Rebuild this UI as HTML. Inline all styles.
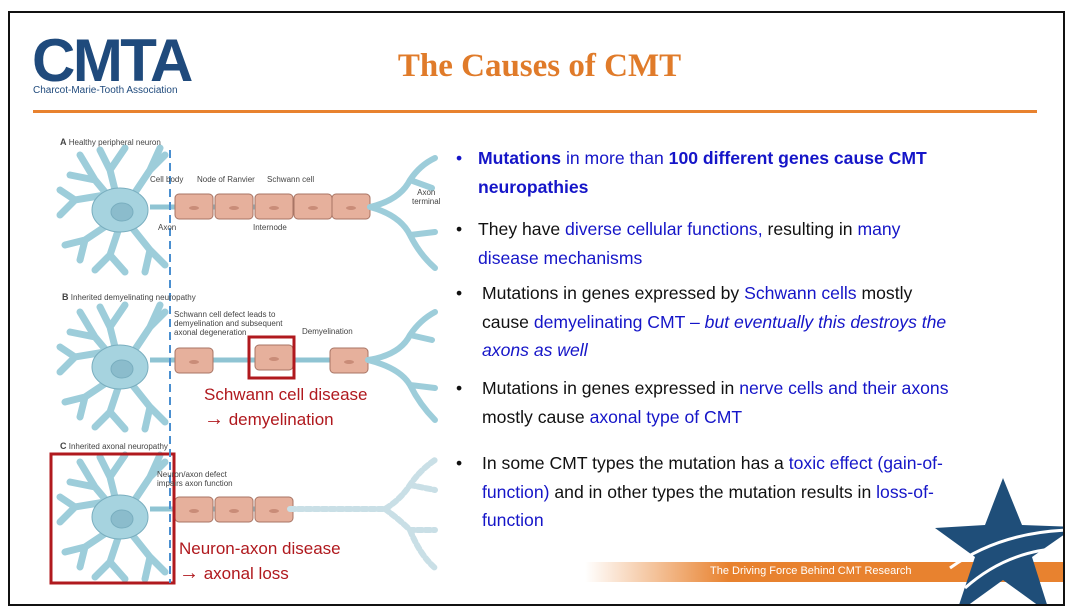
<!DOCTYPE html>
<html><head><meta charset="utf-8"><style>
*{margin:0;padding:0;box-sizing:border-box}
body{width:1079px;height:613px;background:#fff;position:relative;overflow:hidden;font-family:"Liberation Sans",sans-serif}
.frame{position:absolute;left:8px;top:11px;width:1057px;height:595px;border:2px solid #111;overflow:hidden;z-index:5;pointer-events:none}
.t{position:absolute;white-space:nowrap}
.b{color:#1515c8}
.txt{position:absolute;font-size:17.6px;color:#111;line-height:28.5px}
.txt li{list-style:none;position:relative}
.dot{position:absolute;left:-22px}
.sm{position:absolute;font-size:8px;color:#444;white-space:nowrap;line-height:9px}
.red{position:absolute;color:#b0191e;font-size:17px;line-height:24px;white-space:nowrap}
.ar{font-size:20px;font-weight:bold}
</style></head><body>
<div class="frame"></div>
<div class="t" style="left:32px;top:31px;font-size:60px;font-weight:bold;color:#1f4a7c;letter-spacing:-2.5px;line-height:60px">CMTA</div>
<div class="t" style="left:33px;top:85px;font-size:10px;color:#1f4a7c">Charcot-Marie-Tooth Association</div>
<div class="t" style="left:0;width:1079px;text-align:center;top:48px;font-family:'Liberation Serif',serif;font-weight:bold;font-size:33px;color:#e07b2a">The Causes of CMT</div>
<div style="position:absolute;left:33px;top:110px;width:1004px;height:3px;background:#e8822f"></div>

<svg style="position:absolute;left:0;top:0" width="1079" height="613">
<defs>
<clipPath id="fc"><rect x="10" y="13" width="1053" height="591"/></clipPath>
<g id="neu" stroke="#79aebf" stroke-width="1" fill="#a6d3df">
<g fill="none" stroke="#9dcdda" stroke-linecap="round" stroke-width="7">
<path d="M120 0 L95 -30 L80 -55 M95 -30 L70 -35 M105 -15 L75 -10 L60 -20 M75 -10 L60 5"/>
<path d="M120 0 L110 -40 L100 -60 M110 -40 L125 -62 M130 -10 L150 -40 L165 -55 M150 -40 L160 -62"/>
<path d="M115 10 L85 30 L65 35 M85 30 L80 50 M120 15 L110 45 L95 60 M110 45 L125 62 M130 15 L150 40 L165 55 M150 40 L145 62"/>
</g>
<ellipse cx="120" cy="0" rx="28" ry="22"/>
<ellipse cx="122" cy="2" rx="11" ry="9" fill="#8bbccc"/>
</g>
<g id="seg"><rect x="0" y="0" width="38" height="25" rx="4" fill="#e6b09c" stroke="#a87565"/><ellipse cx="19" cy="14" rx="5" ry="2" fill="#c98c78"/></g>
<linearGradient id="og" x1="0" x2="1"><stop offset="0" stop-color="#e8822f" stop-opacity="0"/><stop offset="0.3" stop-color="#e8822f"/><stop offset="1" stop-color="#e8822f"/></linearGradient>
</defs>
<use href="#neu" x="0" y="210"/>
<line x1="150" y1="207" x2="380" y2="207" stroke="#8fc4d3" stroke-width="5"/>
<use href="#seg" x="175" y="194"/><use href="#seg" x="215" y="194"/><use href="#seg" x="255" y="194"/><use href="#seg" x="294" y="194"/><use href="#seg" x="332" y="194"/>
<g fill="none" stroke="#9dcdda" stroke-width="6" stroke-linecap="round"><path d="M370 207 Q400 200 410 180 Q420 165 435 158 M410 180 L432 188 M370 207 Q400 215 410 235 L435 232 M410 235 Q420 255 435 268"/></g>
<use href="#neu" x="0" y="367"/>
<line x1="150" y1="360" x2="380" y2="360" stroke="#8fc4d3" stroke-width="5"/>
<use href="#seg" x="175" y="348"/><use href="#seg" x="255" y="345"/><use href="#seg" x="330" y="348"/>
<rect x="249" y="337" width="45" height="41" fill="none" stroke="#b0191e" stroke-width="3"/>
<g fill="none" stroke="#9dcdda" stroke-width="6" stroke-linecap="round"><path d="M368 360 Q400 355 410 335 Q420 320 435 312 M410 335 L432 340 M368 360 Q400 368 410 385 L435 388 M410 385 Q420 405 435 420"/></g>
<use href="#neu" x="0" y="517"/>
<line x1="150" y1="509" x2="290" y2="509" stroke="#8fc4d3" stroke-width="5"/>
<use href="#seg" x="175" y="497"/><use href="#seg" x="215" y="497"/><use href="#seg" x="255" y="497"/>
<g fill="none" stroke="#c9dfe6" stroke-width="6" stroke-dasharray="5 3" stroke-linecap="round"><path d="M290 509 L385 509 Q400 500 410 485 Q420 470 435 460 M410 485 L435 490 M385 509 Q400 520 410 530 L435 530 M410 530 Q420 555 435 568"/></g>
<rect x="51" y="454" width="123" height="129" fill="none" stroke="#b0191e" stroke-width="3"/>
<line x1="170" y1="150" x2="170" y2="583" stroke="#4a8fd0" stroke-width="2" stroke-dasharray="8 5"/>
<g clip-path="url(#fc)">
<rect x="585" y="562" width="480" height="20" fill="url(#og)"/>
<polygon points="1003,478 1022,525 1075,527 1032,557 1050,614 1003,580 956,614 975,557 935,528 985,525" fill="#1f4e79"/>
<path d="M950 568 Q1000 532 1070 530" stroke="#fff" stroke-width="3" fill="none"/>
<path d="M965 588 Q1010 548 1070 548" stroke="#fff" stroke-width="3" fill="none"/>
</g>
</svg>
<div class="t" style="left:710px;top:565px;font-size:11px;color:#fff">The Driving Force Behind CMT Research</div>

<div class="sm" style="left:60px;top:138px"><b style="font-size:9px">A</b> Healthy peripheral neuron</div>
<div class="sm" style="left:150px;top:175px">Cell body</div>
<div class="sm" style="left:197px;top:175px">Node of Ranvier</div>
<div class="sm" style="left:267px;top:175px">Schwann cell</div>
<div class="sm" style="left:158px;top:223px">Axon</div>
<div class="sm" style="left:253px;top:223px">Internode</div>
<div class="sm" style="left:412px;top:188px;text-align:center">Axon<br>terminal</div>
<div class="sm" style="left:62px;top:293px"><b style="font-size:9px">B</b> Inherited demyelinating neuropathy</div>
<div class="sm" style="left:174px;top:310px">Schwann cell defect leads to<br>demyelination and subsequent<br>axonal degeneration</div>
<div class="sm" style="left:302px;top:327px">Demyelination</div>
<div class="sm" style="left:60px;top:442px"><b style="font-size:9px">C</b> Inherited axonal neuropathy</div>
<div class="sm" style="left:157px;top:470px">Neuron/axon defect<br>impairs axon function</div>
<div class="red" style="left:204px;top:383px">Schwann cell disease<br><span class="ar">→</span> demyelination</div>
<div class="red" style="left:179px;top:537px">Neuron-axon disease<br><span class="ar">→</span> axonal loss</div>

<ul class="txt" style="left:478px;top:144px">
<li><span class="dot b">•</span><b class="b">Mutations</b> <span class="b">in more than</span> <b class="b">100 different genes cause CMT<br>neuropathies</b></li>
</ul>
<ul class="txt" style="left:478px;top:215px">
<li><span class="dot">•</span>They have <span class="b">diverse cellular functions,</span> resulting in <span class="b">many<br>disease mechanisms</span></li>
</ul>
<ul class="txt" style="left:482px;top:279px">
<li><span class="dot" style="left:-26px">•</span>Mutations in genes expressed by <span class="b">Schwann cells</span> mostly<br>cause <span class="b">demyelinating CMT – <i>but eventually this destroys the<br>axons as well</i></span></li>
</ul>
<ul class="txt" style="left:482px;top:374px">
<li><span class="dot" style="left:-26px">•</span>Mutations in genes expressed in <span class="b">nerve cells and their axons</span><br>mostly cause <span class="b">axonal type of CMT</span></li>
</ul>
<ul class="txt" style="left:482px;top:449px">
<li><span class="dot" style="left:-26px">•</span>In some CMT types the mutation has a <span class="b">toxic effect (gain-of-<br>function)</span> and in other types the mutation results in <span class="b">loss-of-<br>function</span></li>
</ul>
</body></html>
